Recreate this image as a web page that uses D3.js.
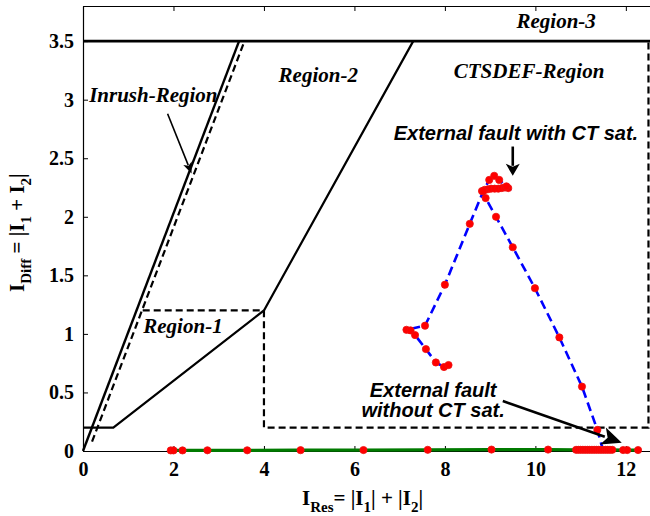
<!DOCTYPE html>
<html>
<head>
<meta charset="utf-8">
<script src="https://cdn.jsdelivr.net/npm/d3@7"></script>
<style>
  body { margin: 0; background: #fff; }
  svg { display: block; }
  .tick text { font-family: "Liberation Serif", "Times New Roman", serif; font-weight: bold; font-size: 20px; fill: #000; }
  .region { font-family: "Liberation Serif", "Times New Roman", serif; font-weight: bold; font-style: italic; font-size: 21px; fill: #000; }
  .note { font-family: "Liberation Sans", Arial, sans-serif; font-weight: bold; font-style: italic; font-size: 20px; fill: #000; }
  .axlabel { font-family: "Liberation Serif", "Times New Roman", serif; font-weight: bold; font-size: 21px; fill: #000; }
</style>
</head>
<body>
<svg id="chart" width="650" height="516"></svg>
<script>
// Axis ticks
const xTicks = [0, 2, 4, 6, 8, 10, 12];
const yTicks = [0, 0.5, 1, 1.5, 2, 2.5, 3, 3.5];

// Characteristic boundaries (I_Res, I_Diff)
const region3Line   = [[0, 3.5], [12.6, 3.5]];
const inrushSolid   = [[0, 0], [3.45, 3.5]];
const inrushDashed  = [[0.2, 0.08], [3.57, 3.5]];
const slopeSolid    = [[0, 0.2], [0.67, 0.2], [4, 1.2], [7.3, 3.5]];
const ctsdefDashed  = [[1.32, 1.2], [4, 1.2], [4, 0.2], [12.5, 0.2], [12.5, 3.5]];

// External fault with CT saturation: operating-point trajectory
const satRes  = [11.5, 11.37, 11.03, 10.53, 9.99, 9.5, 9.13, 8.9, 8.82, 8.88, 8.95, 9.02, 9.1, 9.18, 9.26, 9.33, 9.4, 9.36, 9.2, 9.09, 8.98, 8.85, 8.55, 8.0, 7.56, 7.15, 7.24, 7.34, 7.58, 7.8, 7.98, 8.08];
const satDiff = [0.0, 0.18, 0.55, 0.97, 1.39, 1.74, 2.0, 2.16, 2.22, 2.23, 2.235, 2.24, 2.24, 2.24, 2.245, 2.25, 2.245, 2.26, 2.315, 2.35, 2.315, 2.22, 1.94, 1.42, 1.07, 1.035, 1.03, 0.99, 0.87, 0.756, 0.717, 0.734];
// Markers drawn on the saturated trajectory (the first vertex sits on the axis without a marker)
const satMarkerFrom = 1;

// External fault without CT saturation
const noSatRes  = [1.94, 2.0, 2.2, 2.75, 3.63, 4.81, 6.2, 7.62, 9.03, 10.28, 10.9, 10.95, 11.0, 11.05, 11.1, 11.15, 11.2, 11.25, 11.3, 11.35, 11.4, 11.45, 11.5, 11.55, 11.6, 11.65, 11.7, 11.94, 12.03, 12.27];
const noSatDiff = [0.005, 0.005, 0.005, 0.006, 0.006, 0.007, 0.008, 0.01, 0.012, 0.012, 0.01, 0.01, 0.01, 0.01, 0.01, 0.01, 0.01, 0.01, 0.01, 0.01, 0.01, 0.01, 0.01, 0.01, 0.01, 0.01, 0.01, 0.008, 0.008, 0.008];

// Text annotations: [text, I_Res, I_Diff]
const regionLabels = [
  ["Region-3", 10.46, 3.61],
  ["Region-2", 5.2, 3.155],
  ["CTSDEF-Region", 9.86, 3.185],
  ["Inrush-Region", 1.555, 2.983],
  ["Region-1", 2.21, 1.008]
];
const noteLabels = [
  ["External fault with CT sat.", 9.57, 2.656],
  ["External fault", 7.74, 0.464],
  ["without CT sat.", 7.74, 0.293]
];
// Arrows: [fromRes, fromDiff, toRes, toDiff, strokeWidth, headLength, headHalfWidth]
const arrows = [
  [1.87, 2.88, 2.40, 2.37, 1.6, 11, 4.5],
  [9.50, 2.60, 9.50, 2.35, 2.6, 12, 7],
  [9.28, 0.427, 11.91, 0.071, 2.6, 20, 9]
];

const svg = d3.select("#chart");
const x = d3.scaleLinear().domain([0, 12.6]).range([83, 653]);
const y = d3.scaleLinear().domain([0, 3.8]).range([451, 6]);

// Axes (ticks pointing inward, box style)
const gx = svg.append("g").attr("transform", `translate(0,${y(0)})`)
  .call(d3.axisBottom(x).tickValues(xTicks).tickSize(-5).tickSizeOuter(0).tickPadding(11).tickFormat(d3.format("d")));
const gxt = svg.append("g").attr("transform", `translate(0,${y(3.8)})`)
  .call(d3.axisTop(x).tickValues(xTicks).tickSize(-5).tickSizeOuter(0).tickFormat(""));
const gy = svg.append("g").attr("transform", `translate(${x(0)},0)`)
  .call(d3.axisLeft(y).tickValues(yTicks).tickSize(-5).tickSizeOuter(0).tickPadding(9).tickFormat(d3.format("")));
[gx, gxt, gy].forEach(g => {
  g.select(".domain").attr("stroke", "#000").attr("stroke-width", 1.2);
  g.selectAll(".tick line").attr("stroke", "#000").attr("stroke-width", 1);
});
gx.selectAll(".tick line").filter(d => d === 0).remove();

const line = d3.line().x(d => x(d[0])).y(d => y(d[1]));

// Boundaries
svg.append("path").datum(region3Line).attr("d", line)
  .attr("fill", "none").attr("stroke", "#000").attr("stroke-width", 2.6);
svg.append("path").datum(inrushSolid).attr("d", line)
  .attr("fill", "none").attr("stroke", "#000").attr("stroke-width", 2.4);
svg.append("path").datum(inrushDashed).attr("d", line)
  .attr("fill", "none").attr("stroke", "#000").attr("stroke-width", 2.2).attr("stroke-dasharray", "7,4");
svg.append("path").datum(slopeSolid).attr("d", line)
  .attr("fill", "none").attr("stroke", "#000").attr("stroke-width", 2.2);
svg.append("path").datum(ctsdefDashed).attr("d", line)
  .attr("fill", "none").attr("stroke", "#000").attr("stroke-width", 2.2).attr("stroke-dasharray", "7,4");

// Trajectories
const satPts = satRes.map((r, i) => [r, satDiff[i]]);
const noSatPts = noSatRes.map((r, i) => [r, noSatDiff[i]]);

svg.append("path").datum(noSatPts).attr("d", line)
  .attr("fill", "none").attr("stroke", "#007a00").attr("stroke-width", 3.2);
svg.append("path").datum(satPts).attr("d", line)
  .attr("fill", "none").attr("stroke", "#0000ff").attr("stroke-width", 2.6).attr("stroke-dasharray", "9,5");

svg.append("g").selectAll("circle").data(noSatPts.concat(satPts.slice(satMarkerFrom))).join("circle")
  .attr("cx", d => x(d[0])).attr("cy", d => y(d[1])).attr("r", 3.6)
  .attr("fill", "#ff0000").attr("stroke", "#ee1010").attr("stroke-width", 0.8);

// Arrows
arrows.forEach(([r0, d0, r1, d1, sw, hl, hw]) => {
  const x0 = x(r0), y0 = y(d0), x1 = x(r1), y1 = y(d1);
  const len = Math.hypot(x1 - x0, y1 - y0);
  const ux = (x1 - x0) / len, uy = (y1 - y0) / len;
  const bx = x1 - ux * hl, by = y1 - uy * hl;
  svg.append("line").attr("x1", x0).attr("y1", y0).attr("x2", bx + ux * 2).attr("y2", by + uy * 2)
    .attr("stroke", "#000").attr("stroke-width", sw);
  svg.append("polygon")
    .attr("points", [[x1, y1], [bx - uy * hw, by + ux * hw], [bx + ux * hl * 0.25, by + uy * hl * 0.25], [bx + uy * hw, by - ux * hw]].map(p => p.join(",")).join(" "))
    .attr("fill", "#000");
});

// Region names
svg.append("g").selectAll("text").data(regionLabels).join("text")
  .attr("class", "region").attr("text-anchor", "middle")
  .attr("x", d => x(d[1])).attr("y", d => y(d[2])).text(d => d[0]);

svg.append("g").selectAll("text").data(noteLabels).join("text")
  .attr("class", "note").attr("text-anchor", "middle")
  .attr("x", d => x(d[1])).attr("y", d => y(d[2])).text(d => d[0]);

// Axis titles
const xl = svg.append("text").attr("class", "axlabel").attr("x", 302).attr("y", 505);
xl.append("tspan").text("I");
xl.append("tspan").attr("dy", 7).attr("font-size", 15).text("Res");
xl.append("tspan").attr("dy", -7).text("=  |I");
xl.append("tspan").attr("dy", 7).attr("font-size", 15).text("1");
xl.append("tspan").attr("dy", -7).text("| + |I");
xl.append("tspan").attr("dy", 7).attr("font-size", 15).text("2");
xl.append("tspan").attr("dy", -7).text("|");

const yl = svg.append("text").attr("class", "axlabel")
  .attr("transform", "translate(24,292) rotate(-90)").attr("x", 0).attr("y", 0);
yl.append("tspan").text("I");
yl.append("tspan").attr("dy", 7).attr("font-size", 15).text("Diff");
yl.append("tspan").attr("dy", -7).text(" = |I");
yl.append("tspan").attr("dy", 7).attr("font-size", 15).text("1");
yl.append("tspan").attr("dy", -7).text(" + I");
yl.append("tspan").attr("dy", 7).attr("font-size", 15).text("2");
yl.append("tspan").attr("dy", -7).text("|");
</script>
</body>
</html>
